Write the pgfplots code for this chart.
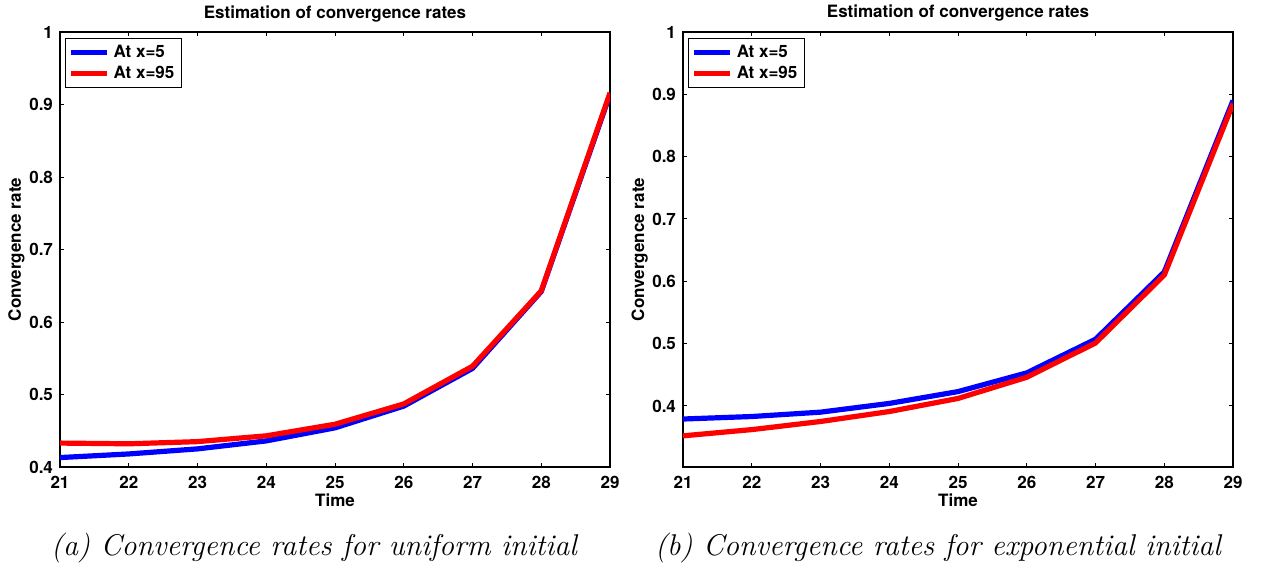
\documentclass[border=0pt]{standalone}
\usepackage{fontspec}
\usepackage{pgfplots}
\pgfplotsset{compat=1.18}
\newfontfamily\hv{TeX Gyre Heros}
\newcommand{\mfont}{\hv\bfseries\fontsize{8.5}{10}\selectfont}

\pgfplotsset{
  mlab/.style={
    scale only axis,
    width=275pt, height=217.5pt,
    xmin=21, xmax=29, xtick={21,...,29},
    ymax=1,
    tick align=inside,
    major tick length=2.2pt,
    axis line style={line width=0.7pt},
    every tick/.style={black, line width=0.5pt},
    /pgf/number format/assume math mode=true,
    /pgf/number format/fixed,
    ticklabel style={font=\mfont},
    xticklabel style={anchor=base, yshift=-10.5pt},
    title={Estimation of convergence rates},
    title style={font=\mfont, at={(axis description cs:0.5,1)}, anchor=base, yshift=1pt},
    xlabel={Time},
    xlabel style={font=\mfont, at={(axis description cs:0.5,0)}, anchor=base, yshift=-19.5pt},
    ylabel={Convergence rate},
    ylabel style={font=\mfont, at={(axis description cs:-0.0709,0.5)}, anchor=base},
    legend style={at={(axis description cs:0.009,0.986)}, anchor=north west,
      font=\mfont, draw=black, line width=0.6pt,
      inner xsep=1.5pt, inner ysep=1pt, row sep=-1pt},
    legend cell align=left,
    legend image code/.code={\draw[line width=2.6pt] (0pt,0pt) -- (18pt,0pt);},
    every axis plot/.append style={line width=2.6pt},
  }
}

\begin{document}
\begin{tikzpicture}
\useasboundingbox (-30pt,-50pt) rectangle (600.5pt,233.5pt);

\begin{axis}[mlab, name=a, at={(0pt,0pt)}, anchor=south west,
  ymin=0.4, ytick={0.4,0.5,...,1}]
\addplot[blue] coordinates {
  (21,0.413) (22,0.418) (23,0.425) (24,0.436) (25,0.454)
  (26,0.484) (27,0.536) (28,0.642) (29,0.914)
};
\addplot[red] coordinates {
  (21,0.433) (22,0.432) (23,0.435) (24,0.443) (25,0.459)
  (26,0.487) (27,0.539) (28,0.643) (29,0.916)
};
\legend{At x=5, At x=95}
\end{axis}

\begin{axis}[mlab, name=b, at={(311.5pt,0pt)}, anchor=south west,
  ymin=0.302, ytick={0.4,0.5,...,1}]
\addplot[blue] coordinates {
  (21,0.379) (22,0.383) (23,0.390) (24,0.404) (25,0.423)
  (26,0.453) (27,0.507) (28,0.615) (29,0.890)
};
\addplot[red] coordinates {
  (21,0.352) (22,0.362) (23,0.375) (24,0.391) (25,0.412)
  (26,0.446) (27,0.501) (28,0.610) (29,0.885)
};
\legend{At x=5, At x=95}
\end{axis}

\node[anchor=base, font=\itshape\fontsize{15}{17}\selectfont] at (127pt,-44pt)
  {(a) Convergence rates for uniform initial};
\node[anchor=base, font=\itshape\fontsize{15}{17}\selectfont] at (439pt,-44pt)
  {(b) Convergence rates for exponential initial};
\end{tikzpicture}
\end{document}
